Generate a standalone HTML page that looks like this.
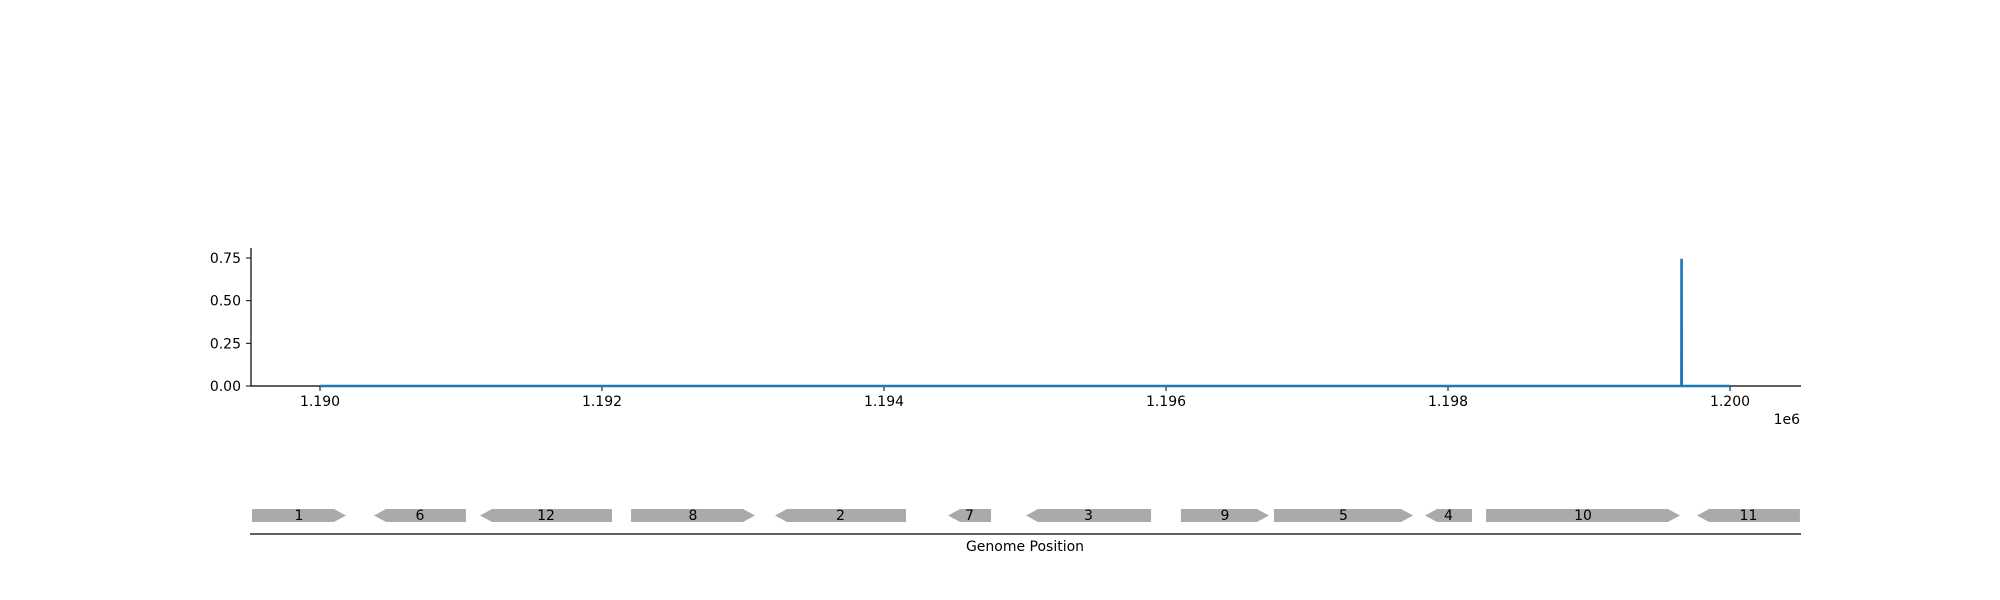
<!DOCTYPE html>
<html><head><meta charset="utf-8"><style>
html,body{margin:0;padding:0;background:#fff;}
svg{display:block;font-family:"DejaVu Sans","Liberation Sans",sans-serif;}
</style></head><body>
<svg id="chart" width="2000" height="600" viewBox="0 0 2000 600"></svg>
<script>
const xTicks=[1190000,1192000,1194000,1196000,1198000,1200000];
const xTickLabels=["1.190","1.192","1.194","1.196","1.198","1.200"];
const yTicks=[0,0.25,0.5,0.75];
const yTickLabels=["0.00","0.25","0.50","0.75"];
const seriesX=[1190000,1199655,1199656,1199657,1199658,1200000];
const seriesY=[0,0,0.738,0.738,0,0];
const geneNames=["1","6","12","8","2","7","3","9","5","4","10","11"];
const geneStart=[1189518,1190383,1191135,1192206,1193227,1194454,1195007,1196106,1196766,1197837,1198270,1199766];
const geneEnd=[1190184,1191035,1192071,1193085,1194156,1194759,1195894,1196730,1197752,1198170,1199645,1200496];
const geneStrand=[1,-1,-1,1,-1,-1,-1,1,1,-1,1,-1];

const NS="http://www.w3.org/2000/svg";
const svg=document.getElementById('chart');
function X(v){return 320+(v-1190000)*0.141;}
function Y(v){return 386-v*(128/0.75);}
function mk(t,a,p){const e=document.createElementNS(NS,t);for(const k in a)e.setAttribute(k,a[k]);(p||svg).appendChild(e);return e;}

const ya=mk('line',{x1:251,y1:248,x2:251,y2:386.5,stroke:'#000','stroke-width':1.2});


const xa=mk('line',{x1:250.5,y1:386,x2:1801,y2:386,stroke:'#000','stroke-width':1.2});



yTicks.forEach((v,i)=>{
  const l=mk('line',{x1:246,y1:Y(v),x2:251,y2:Y(v),stroke:'#000','stroke-width':1});
  
  
  const t=mk('text',{x:241,y:Y(v)+5,'text-anchor':'end','font-size':14,fill:'#000'});
  t.textContent=yTickLabels[i];
  
  
});
xTicks.forEach((v,i)=>{
  const l=mk('line',{x1:X(v),y1:386,x2:X(v),y2:391,stroke:'#000','stroke-width':1});
  
  
  const t=mk('text',{x:X(v),y:406,'text-anchor':'middle','font-size':14,fill:'#000'});
  t.textContent=xTickLabels[i];
  
  
});
const off=mk('text',{x:1800,y:424,'text-anchor':'end','font-size':14,fill:'#000'});
off.textContent='1e6';



const pts=seriesX.map((v,i)=>X(v)+','+Y(seriesY[i])).join(' ');
const pl=mk('polyline',{points:pts,fill:'none',stroke:'#1f77b4','stroke-width':2.5});



const gy0=509,gy1=522,head=12;
geneNames.forEach((n,i)=>{
  const a=X(geneStart[i]),b=X(geneEnd[i]),m=(gy0+gy1)/2;
  let p;
  if(geneStrand[i]>0)p=`${a},${gy0} ${b-head},${gy0} ${b},${m} ${b-head},${gy1} ${a},${gy1}`;
  else p=`${a},${m} ${a+head},${gy0} ${b},${gy0} ${b},${gy1} ${a+head},${gy1}`;
  const g=mk('polygon',{points:p,fill:'#aaaaaa'});
  
  
  const t=mk('text',{x:(a+b)/2,y:520,'text-anchor':'middle','font-size':14,fill:'#000'});
  t.textContent=n;
  
  
});
const bl=mk('line',{x1:250,y1:534,x2:1801,y2:534,stroke:'#000','stroke-width':1.2});


const gt=mk('text',{x:1025,y:551,'text-anchor':'middle','font-size':14,fill:'#000'});
gt.textContent='Genome Position';


</script>
</body></html>
